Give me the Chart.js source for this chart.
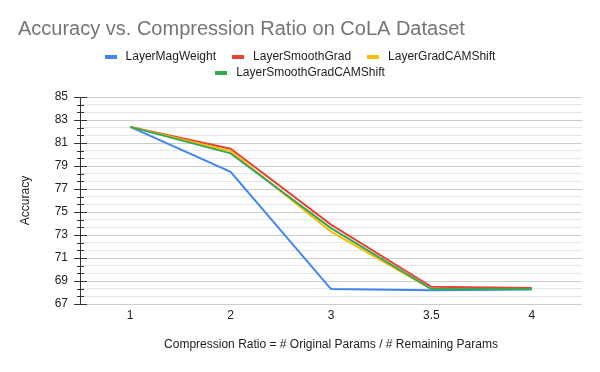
<!DOCTYPE html>
<html>
<head>
<meta charset="utf-8">
<script src="https://cdn.jsdelivr.net/npm/chart.js@4/dist/chart.umd.min.js"></script>
<style>
  html, body { margin: 0; padding: 0; background: #ffffff; }
  #wrap { width: 600px; height: 372px; }
</style>
</head>
<body>
<div id="wrap"><canvas id="c" width="600" height="372"></canvas></div>
<script>
const categories = ['1', '2', '3', '3.5', '4'];
const seriesNames = ['LayerMagWeight', 'LayerSmoothGrad', 'LayerGradCAMShift', 'LayerSmoothGradCAMShift'];
const layerMagWeight = [82.4, 78.5, 68.3, 68.2, 68.25];
const layerSmoothGrad = [82.4, 80.5, 73.9, 68.5, 68.4];
const layerGradCAMShift = [82.4, 80.3, 73.3, 68.3, 68.3];
const layerSmoothGradCAMShift = [82.4, 80.1, 73.6, 68.3, 68.3];
const yMin = 67, yMax = 85, yLabelStep = 2, yMinorStep = 2 / 3;

const colors = ['#4285f4', '#ea4335', '#fbbc04', '#34a853'];
const FONT = '"Liberation Sans", Arial, sans-serif';

function isMajor(v) {
  const k = (v - yMin) / yLabelStep;
  return Math.abs(k - Math.round(k)) < 1e-6;
}

const sheetLegend = {
  id: 'sheetLegend',
  afterDraw(chart, args, o) {
    const ctx = chart.ctx;
    ctx.save();
    ctx.font = o.font;
    ctx.textBaseline = 'middle';
    ctx.textAlign = 'left';
    const items = chart.data.datasets.map(d => ({
      text: d.label, color: d.borderColor,
      w: o.box + o.boxGap + ctx.measureText(d.label).width
    }));
    const rows = [];
    let cur = [], curW = 0;
    items.forEach(it => {
      const add = (cur.length ? o.itemGap : 0) + it.w;
      if (cur.length && curW + add > o.maxWidth) {
        rows.push({ items: cur, w: curW });
        cur = [it]; curW = it.w;
      } else { cur.push(it); curW += add; }
    });
    rows.push({ items: cur, w: curW });
    const centerX = (chart.width) / 2;
    rows.forEach((row, r) => {
      let x = centerX - row.w / 2;
      const y = o.top + r * o.rowHeight;
      row.items.forEach(it => {
        ctx.fillStyle = it.color;
        ctx.fillRect(Math.round(x), Math.round(y - o.boxH / 2), o.box, o.boxH);
        ctx.fillStyle = o.color;
        ctx.fillText(it.text, x + o.box + o.boxGap, y);
        x += it.w + o.itemGap;
      });
    });
    ctx.restore();
  }
};

const axisTicks = {
  id: 'axisTicks',
  afterDraw(chart) {
    const s = chart.scales.y;
    const ctx = chart.ctx;
    const x0 = Math.round(s.right) + 0.5;
    ctx.save();
    ctx.strokeStyle = '#333333';
    ctx.lineWidth = 1;
    ctx.beginPath();
    s.ticks.forEach((t, i) => {
      const py = Math.round(s.getPixelForTick(i)) + 0.5;
      const major = isMajor(t.value);
      ctx.moveTo(x0 - (major ? 6.5 : 3.5), py);
      ctx.lineTo(x0 + (major ? 6.5 : 3.5), py);
    });
    ctx.moveTo(x0, Math.round(s.top));
    ctx.lineTo(x0, Math.round(s.bottom) + 1);
    ctx.stroke();
    ctx.restore();
  }
};

const seriesData = [layerMagWeight, layerSmoothGrad, layerGradCAMShift, layerSmoothGradCAMShift];

new Chart(document.getElementById('c'), {
  type: 'line',
  data: {
    labels: categories,
    datasets: seriesData.map((vals, i) => ({
      label: seriesNames[i],
      data: vals,
      borderColor: colors[i],
      backgroundColor: colors[i],
      borderWidth: 2,
      pointRadius: 0,
      tension: 0,
      fill: false,
      order: seriesData.length - i
    }))
  },
  options: {
    responsive: false,
    animation: false,
    devicePixelRatio: 1,
    layout: { padding: { left: 18, right: 18, top: 0, bottom: 0 } },
    plugins: {
      legend: { display: false },
      tooltip: { enabled: false },
      title: {
        display: true,
        text: 'Accuracy vs. Compression Ratio on CoLA Dataset',
        align: 'start',
        color: '#757575',
        font: { family: FONT, size: 20, weight: 'normal' },
        padding: { top: 17, bottom: 56 }
      },
      sheetLegend: {
        font: '12px ' + FONT,
        color: '#222222',
        top: 57, rowHeight: 16,
        box: 12, boxH: 4, boxGap: 9, itemGap: 16, maxWidth: 440
      }
    },
    scales: {
      x: {
        type: 'category',
        offset: true,
        grid: { display: false, drawTicks: false },
        border: { display: false },
        ticks: { padding: 4, color: '#222222', font: { family: FONT, size: 12 } },
        title: {
          display: true,
          text: 'Compression Ratio = # Original Params / # Remaining Params',
          color: '#222222',
          font: { family: FONT, size: 12 },
          padding: { top: 0, bottom: 20 }
        },
        afterFit(scale) { scale.height = 68; }
      },
      y: {
        min: yMin,
        max: yMax,
        grid: {
          drawTicks: false,
          color: ctx => (ctx.tick && isMajor(ctx.tick.value)) ? '#cccccc' : '#e6e6e6',
          lineWidth: 1
        },
        border: { display: false },
        ticks: {
          stepSize: yMinorStep,
          autoSkip: false,
          padding: 12,
          color: '#222222',
          font: { family: FONT, size: 12 },
          callback: v => isMajor(v) ? String(Math.round(v)) : ''
        },
        title: {
          display: true,
          text: 'Accuracy',
          color: '#222222',
          font: { family: FONT, size: 12 },
          padding: { top: 0, bottom: 0 }
        },
        afterFit(scale) { scale.width = 62; }
      }
    }
  },
  plugins: [sheetLegend, axisTicks]
});
</script>
</body>
</html>
